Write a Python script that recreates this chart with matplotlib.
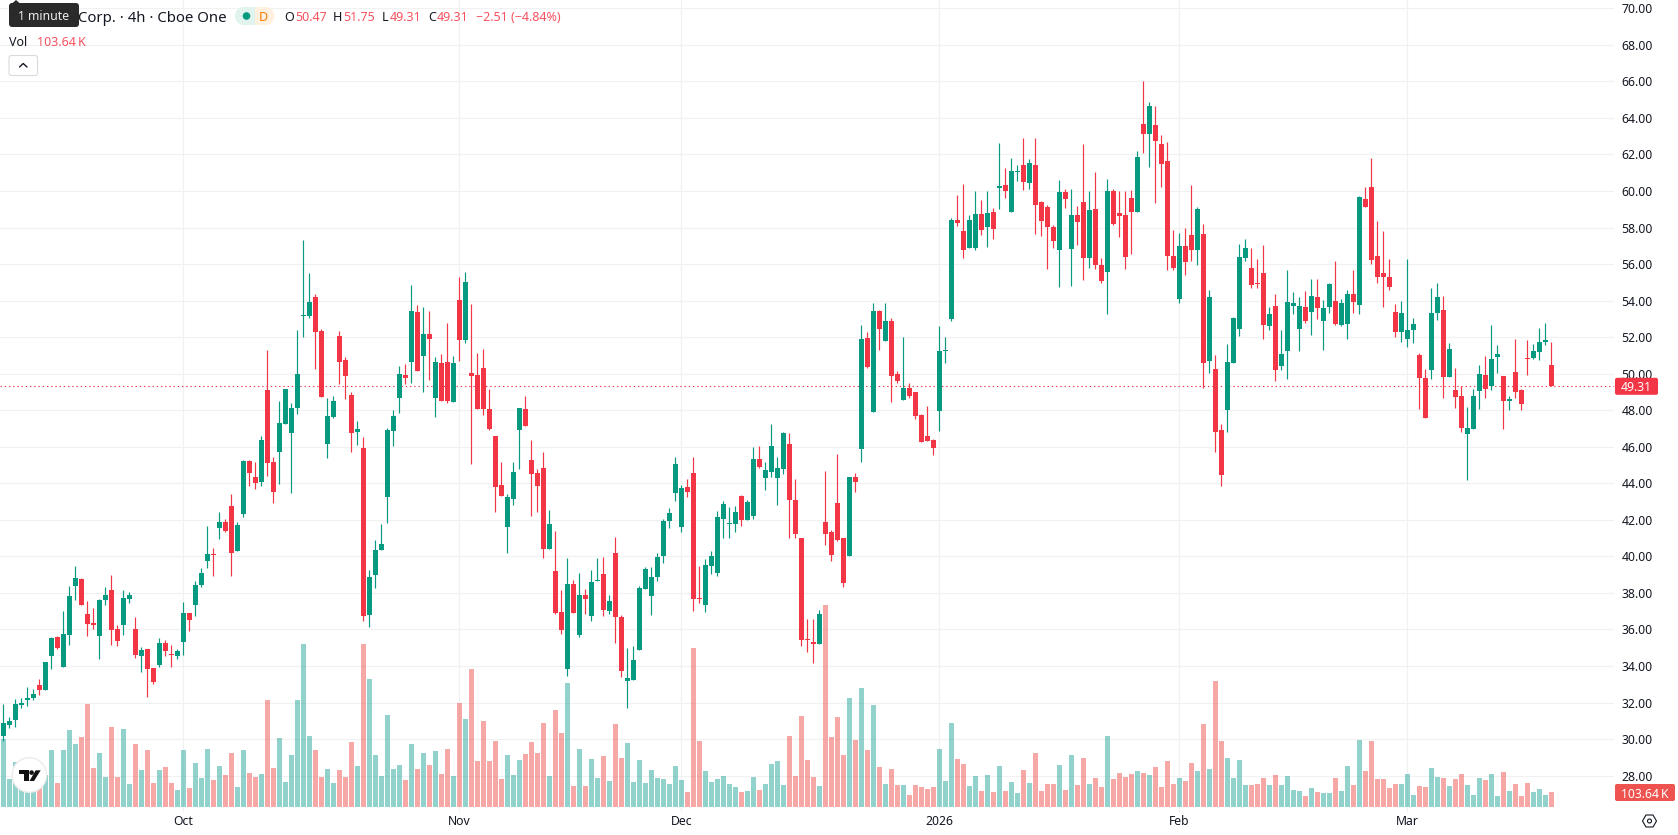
import matplotlib
matplotlib.use("Agg")
import matplotlib.pyplot as plt
from matplotlib.patches import Circle, FancyBboxPatch, Polygon, Rectangle

plt.rcParams["font.family"] = ["Noto Sans", "DejaVu Sans"]

# 4h candles, oldest first
opens = [
    30.18, 30.77, 31.06, 31.86, 32.14, 32.26, 32.96, 32.68, 34.54, 35.58,
    33.94, 35.69, 38.38, 38.76, 36.84, 36.35, 35.64, 37.61, 38.16, 36.02,
    36.24, 37.66, 36.02, 34.54, 34.93, 33.89, 34.05, 35.26, 34.65, 34.54,
    35.31, 36.90, 37.34, 38.43, 39.75, 40.13, 41.55, 41.88, 42.76, 40.29,
    42.32, 45.23, 44.35, 44.08, 49.11, 45.17, 45.72, 47.25, 46.76, 48.13,
    53.16, 53.16, 54.20, 52.34, 46.16, 47.63, 52.07, 50.75, 48.84, 46.81,
    45.94, 36.79, 38.98, 40.35, 43.25, 46.87, 48.67, 49.93, 50.65, 53.38,
    50.97, 52.18, 48.67, 50.59, 50.65, 48.46, 54.04, 51.85, 50.04, 49.93,
    50.32, 48.07, 46.60, 43.91, 41.61, 43.15, 46.93, 48.07, 45.28, 44.57,
    44.84, 40.41, 39.21, 36.96, 33.84, 38.47, 35.70, 37.89, 36.74, 38.66,
    39.04, 37.02, 40.19, 36.69, 33.18, 33.24, 34.88, 38.22, 37.84, 38.88,
    40.03, 41.94, 43.48, 41.61, 43.80, 44.57, 37.73, 37.34, 39.48, 39.10,
    42.05, 41.78, 41.78, 43.31, 42.00, 42.22, 45.34, 44.30, 44.63, 44.30,
    44.76, 46.13, 43.11, 40.98, 35.50, 35.34, 35.18, 41.91, 41.36, 42.90,
    40.98, 40.00, 44.32, 45.86, 51.93, 47.88, 53.41, 51.77, 52.87, 49.96,
    48.54, 49.20, 48.98, 47.72, 46.57, 46.35, 47.94, 51.22, 52.97, 58.40,
    57.79, 56.86, 56.86, 58.72, 58.01, 58.83, 60.15, 60.31, 58.83, 61.02,
    61.41, 60.42, 61.41, 59.38, 59.11, 58.01, 56.75, 59.96, 56.84, 58.70,
    59.41, 56.35, 59.03, 55.96, 55.58, 60.02, 58.81, 58.70, 59.63, 58.87,
    63.68, 63.14, 63.63, 62.59, 61.66, 56.46, 54.10, 57.00, 57.61, 56.79,
    57.66, 50.71, 50.27, 46.93, 48.03, 50.60, 52.46, 56.35, 55.80, 54.98,
    55.53, 52.62, 53.72, 50.43, 51.26, 53.72, 52.46, 53.66, 53.39, 54.21,
    52.90, 53.66, 53.99, 52.65, 52.71, 54.35, 53.75, 59.55, 60.21, 56.43,
    55.50, 55.28, 53.36, 52.27, 51.89, 52.38, 51.01, 49.75, 50.19, 53.31,
    53.47, 49.80, 49.09, 48.76, 46.68, 46.96, 49.04, 49.91, 49.31, 50.90,
    49.86, 48.49, 50.08, 49.09, 50.84, 50.84, 51.17, 51.72, 50.47,
]
highs = [
    31.92, 31.20, 32.19, 32.26, 32.85, 32.74, 33.29, 34.22, 35.58, 35.64,
    37.01, 38.38, 39.47, 38.81, 37.56, 37.17, 37.66, 38.32, 38.98, 36.24,
    38.16, 38.05, 36.68, 35.04, 34.93, 33.89, 35.53, 35.42, 35.15, 34.93,
    37.50, 36.90, 38.65, 39.36, 41.66, 40.46, 42.43, 42.05, 43.41, 41.88,
    45.28, 45.28, 45.17, 46.59, 51.30, 45.44, 48.51, 49.17, 48.40, 52.40,
    57.33, 55.52, 54.37, 52.45, 48.67, 48.78, 52.34, 50.92, 49.00, 47.42,
    46.54, 39.26, 40.90, 41.78, 47.03, 48.02, 50.43, 50.54, 54.86, 53.77,
    53.66, 53.44, 50.92, 51.08, 52.78, 50.97, 55.30, 55.57, 53.82, 51.14,
    51.36, 49.17, 46.60, 45.17, 43.42, 45.17, 48.13, 48.79, 46.38, 44.79,
    45.72, 42.55, 41.40, 38.17, 39.92, 38.71, 39.10, 38.22, 39.26, 39.92,
    39.97, 37.89, 41.07, 36.80, 34.99, 35.10, 38.38, 39.42, 39.42, 40.19,
    42.05, 42.65, 45.45, 43.91, 44.24, 45.45, 39.48, 39.86, 40.30, 42.49,
    43.04, 42.71, 42.76, 43.37, 43.09, 46.00, 46.05, 45.17, 47.25, 45.45,
    46.79, 46.73, 44.21, 40.98, 36.60, 36.60, 37.09, 44.70, 41.42, 45.58,
    41.03, 44.37, 44.59, 52.65, 52.26, 53.85, 53.47, 53.85, 53.03, 50.13,
    51.99, 49.47, 48.98, 47.77, 48.21, 46.40, 52.59, 51.99, 58.50, 59.76,
    60.37, 58.67, 59.98, 59.49, 59.98, 59.05, 62.61, 61.24, 61.79, 61.41,
    62.88, 61.73, 62.88, 59.44, 59.22, 58.12, 60.59, 60.12, 60.12, 59.19,
    62.59, 60.02, 61.06, 56.35, 60.67, 60.12, 60.02, 60.02, 60.07, 62.21,
    66.04, 64.89, 64.67, 63.08, 62.70, 57.88, 57.72, 57.99, 60.34, 59.14,
    58.21, 54.60, 51.04, 47.26, 51.64, 53.12, 57.11, 57.39, 56.89, 56.29,
    57.06, 53.66, 54.38, 52.41, 55.69, 54.49, 54.21, 54.54, 55.20, 55.20,
    54.05, 54.98, 56.18, 54.08, 54.57, 55.66, 59.71, 60.21, 61.79, 58.35,
    57.80, 56.26, 53.80, 53.97, 56.26, 53.03, 51.12, 50.24, 54.68, 54.95,
    54.24, 51.67, 50.30, 49.31, 48.16, 49.15, 50.46, 50.95, 52.65, 51.56,
    49.86, 48.76, 51.88, 49.15, 51.83, 51.61, 52.49, 52.76, 51.75,
]
lows = [
    29.91, 30.62, 30.67, 31.70, 31.81, 32.14, 32.41, 32.68, 33.83, 34.93,
    33.94, 35.15, 37.61, 37.34, 35.64, 36.02, 34.38, 37.34, 35.15, 35.09,
    35.69, 37.45, 34.43, 33.67, 32.30, 33.01, 33.94, 34.54, 33.94, 34.38,
    34.60, 35.91, 36.73, 38.32, 39.36, 38.92, 40.95, 41.33, 38.92, 40.29,
    42.16, 43.86, 43.69, 43.86, 44.40, 42.93, 43.97, 47.25, 43.47, 47.80,
    52.01, 53.05, 50.26, 48.73, 45.39, 47.58, 49.44, 48.62, 45.72, 46.10,
    36.45, 36.15, 38.27, 40.35, 41.83, 46.05, 47.85, 49.44, 49.48, 50.15,
    49.00, 49.66, 47.63, 48.51, 48.40, 48.46, 50.70, 51.69, 45.06, 48.07,
    47.74, 46.92, 42.44, 43.31, 40.19, 42.82, 44.79, 47.14, 42.22, 42.44,
    39.92, 40.41, 36.85, 35.76, 33.46, 36.91, 35.59, 36.85, 36.47, 38.66,
    36.74, 36.85, 35.26, 33.40, 31.70, 33.24, 34.88, 38.22, 36.80, 38.66,
    39.64, 41.56, 43.04, 41.34, 43.26, 37.02, 37.45, 36.96, 39.04, 38.93,
    41.01, 41.01, 41.34, 41.67, 42.00, 42.05, 44.84, 43.64, 44.35, 42.82,
    44.49, 40.98, 40.98, 35.12, 34.79, 34.14, 35.18, 40.65, 39.77, 40.87,
    38.35, 40.00, 43.50, 45.15, 50.29, 47.88, 51.28, 51.77, 48.43, 49.47,
    48.54, 48.65, 47.50, 46.24, 46.30, 45.53, 46.84, 50.57, 52.87, 58.07,
    56.31, 56.86, 56.75, 57.57, 56.92, 57.35, 59.00, 59.60, 58.83, 60.53,
    60.04, 60.09, 57.63, 57.52, 55.71, 56.86, 54.73, 59.08, 54.81, 57.06,
    55.14, 55.80, 55.75, 54.98, 53.28, 58.15, 57.50, 55.75, 56.57, 58.87,
    62.10, 61.33, 59.36, 60.23, 55.69, 55.69, 53.88, 55.42, 56.18, 55.96,
    49.23, 50.05, 45.73, 43.86, 46.82, 50.60, 52.08, 56.18, 54.70, 54.70,
    51.91, 52.40, 49.61, 50.21, 49.72, 53.28, 51.26, 52.79, 52.13, 53.01,
    51.31, 53.34, 52.68, 52.60, 51.89, 53.31, 53.25, 59.11, 55.99, 54.95,
    53.63, 54.57, 51.99, 51.72, 51.45, 51.67, 48.05, 47.56, 49.69, 52.93,
    48.65, 49.80, 48.11, 46.79, 44.17, 46.96, 48.05, 48.65, 49.09, 50.02,
    46.96, 48.00, 48.65, 48.00, 49.91, 50.79, 50.74, 51.56, 49.31,
]
closes = [
    30.86, 30.99, 31.92, 31.97, 32.26, 32.46, 32.68, 34.22, 35.53, 34.98,
    35.75, 37.83, 38.81, 37.34, 36.30, 36.24, 37.61, 37.88, 35.97, 35.37,
    37.72, 37.88, 34.60, 34.87, 33.83, 33.12, 35.26, 34.82, 34.60, 34.82,
    36.90, 36.51, 38.43, 39.09, 40.13, 40.07, 41.88, 41.39, 40.18, 41.72,
    45.23, 44.57, 44.02, 46.37, 45.12, 43.53, 47.31, 49.17, 48.13, 49.99,
    53.22, 53.93, 52.29, 48.73, 47.69, 48.51, 50.65, 49.88, 46.76, 46.98,
    36.74, 38.87, 40.35, 40.68, 46.92, 47.69, 49.99, 49.77, 53.44, 50.15,
    52.18, 51.90, 50.65, 48.51, 48.51, 50.59, 51.85, 55.03, 49.88, 48.07,
    48.07, 46.98, 43.80, 43.31, 43.26, 44.63, 48.13, 47.14, 44.52, 43.86,
    40.41, 41.78, 36.91, 35.97, 38.47, 36.91, 37.89, 37.67, 38.60, 38.71,
    37.07, 37.56, 36.69, 33.73, 33.35, 34.33, 38.27, 39.31, 38.88, 39.97,
    41.94, 42.38, 45.06, 43.75, 43.53, 37.67, 37.67, 39.53, 40.03, 42.16,
    42.87, 41.83, 42.44, 42.00, 42.98, 45.34, 44.90, 44.73, 46.05, 44.84,
    46.73, 43.06, 41.25, 35.45, 35.45, 35.18, 36.82, 41.25, 40.10, 40.92,
    38.52, 44.32, 44.05, 51.88, 50.35, 53.41, 52.43, 52.87, 49.85, 49.58,
    49.20, 48.76, 47.66, 46.24, 46.30, 45.91, 51.22, 51.28, 58.40, 58.23,
    56.75, 58.40, 58.72, 57.85, 58.78, 57.90, 60.26, 59.98, 61.08, 61.08,
    60.48, 61.52, 59.22, 58.34, 58.01, 57.25, 59.93, 59.58, 58.70, 58.32,
    56.35, 58.97, 55.96, 55.09, 60.02, 58.21, 58.65, 56.40, 58.87, 61.88,
    63.14, 64.67, 62.75, 61.49, 56.46, 55.80, 57.00, 56.13, 56.79, 59.03,
    50.60, 54.21, 46.82, 44.47, 50.65, 53.06, 56.40, 56.89, 54.87, 54.92,
    52.68, 53.28, 50.21, 51.09, 53.94, 53.88, 53.72, 52.90, 54.27, 53.61,
    53.61, 54.92, 52.73, 53.86, 54.35, 53.91, 59.66, 59.11, 56.21, 55.28,
    55.28, 54.73, 52.27, 53.31, 52.38, 52.71, 49.75, 47.56, 53.31, 54.18,
    49.80, 51.34, 48.71, 47.01, 47.01, 48.76, 49.97, 49.15, 50.79, 51.06,
    48.49, 48.60, 48.98, 48.33, 50.79, 51.23, 51.72, 51.83, 49.31,
]
# volume per candle, thousands of shares
volumes = [
    469, 193, 311, 186, 129, 140, 152, 221, 393, 166,
    393, 531, 435, 483, 711, 269, 373, 207, 552, 207,
    538, 159, 435, 255, 393, 166, 255, 276, 166, 117,
    393, 131, 304, 200, 400, 186, 283, 221, 373, 138,
    393, 235, 207, 228, 738, 269, 476, 173, 359, 738,
    1125, 490, 393, 207, 262, 166, 255, 207, 449, 283,
    1125, 883, 359, 214, 635, 262, 290, 186, 435, 262,
    373, 290, 386, 228, 400, 214, 718, 607, 952, 317,
    593, 317, 455, 193, 359, 221, 324, 366, 449, 373,
    580, 214, 669, 511, 856, 145, 400, 145, 331, 200,
    352, 179, 573, 338, 442, 173, 324, 166, 255, 200,
    193, 159, 283, 186, 104, 1097, 455, 248, 173, 193,
    214, 159, 138, 104, 110, 207, 117, 159, 297, 317,
    152, 490, 214, 628, 324, 207, 145, 1394, 483, 621,
    359, 752, 462, 821, 393, 704, 276, 159, 262, 152,
    152, 83, 152, 138, 124, 138, 400, 179, 580, 331,
    297, 145, 214, 110, 221, 104, 283, 110, 173, 97,
    255, 166, 373, 110, 159, 159, 290, 117, 359, 152,
    338, 159, 200, 138, 490, 193, 235, 207, 228, 248,
    235, 221, 276, 138, 317, 159, 200, 179, 304, 248,
    573, 262, 869, 455, 338, 200, 324, 152, 152, 159,
    200, 152, 221, 152, 214, 117, 110, 76, 131, 104,
    97, 97, 200, 110, 283, 152, 462, 248, 455, 193,
    193, 131, 159, 159, 228, 83, 145, 138, 269, 207,
    200, 145, 193, 228, 152, 83, 200, 186, 228, 76,
    242, 110, 159, 76, 166, 104, 124, 83, 103.64,
]
month_ticks = [30, 76, 113, 156, 196, 234]
month_labels = ["Oct", "Nov", "Dec", "2026", "Feb", "Mar"]
price_ticks = list(range(28, 71, 2))
last_price = 49.31
last_volume = 103.64

UP = "#089981"
DOWN = "#F23645"
VOL_UP = "#26A69A"
VOL_DOWN = "#EF5350"
GRID = "#F1F1F1"
TEXT = "#131722"

W, H = 1678, 835
PANE_R, PANE_B = 1614, 812   # right and bottom edge of the plot pane, in pixels
BAR_STEP = 6.0               # pixels per candle
FIRST_X = 3.33               # pixel centre of the first candle
PX_PER_UNIT = 18.27          # pixels per price unit
TOP_TICK_PX = 8.3            # pixel row of the 70.00 gridline


def price_to_px(p):
    return TOP_TICK_PX + (70 - p) * PX_PER_UNIT


fig = plt.figure(figsize=(W / 100, H / 100), dpi=100, facecolor="white")
rect = [0, (H - PANE_B) / H, PANE_R / W, PANE_B / H]

xlim = (-FIRST_X / BAR_STEP, (PANE_R - FIRST_X) / BAR_STEP)
xs = list(range(len(closes)))
rising = [c >= o for o, c in zip(opens, closes)]
colors = [UP if r else DOWN for r in rising]
vol_colors = [VOL_UP if r else VOL_DOWN for r in rising]

# price pane: grid, last price line and candles
ax = fig.add_axes(rect, zorder=1)
ax.set_xlim(xlim)
ax.set_ylim(70 - (PANE_B - TOP_TICK_PX) / PX_PER_UNIT, 70 + TOP_TICK_PX / PX_PER_UNIT)
for s in ax.spines.values():
    s.set_visible(False)
ax.set_axisbelow(True)
ax.grid(True, color=GRID, linewidth=0.85)
ax.yaxis.tick_right()
ax.set_yticks(price_ticks, [f"{v:.2f}" for v in price_ticks])
ax.set_xticks(month_ticks, month_labels)
ax.tick_params(length=0, labelsize=8.8, labelcolor=TEXT)
ax.tick_params(axis="y", pad=5.5)
ax.tick_params(axis="x", pad=2.5)
ax.get_xticklabels()[3].set_fontweight("bold")

ax.axhline(last_price, color=DOWN, linewidth=0.8, linestyle=(0, (1.2, 2.6)), zorder=1.5)
ax.vlines(xs, lows, highs, colors=colors, linewidth=0.85, zorder=3)
body_bottom = [min(o, c) for o, c in zip(opens, closes)]
body_height = [max(abs(o - c), 0.05) for o, c in zip(opens, closes)]
ax.bar(xs, body_height, bottom=body_bottom, width=5 / BAR_STEP, color=colors, linewidth=0, zorder=4)

# volume pane shares the same area, anchored a few pixels above the pane bottom
K_PER_PX = 6.909
vol = fig.add_axes(rect, zorder=2)
vol.patch.set_visible(False)
vol.set_axis_off()
vol.set_xlim(xlim)
vol.set_ylim(-(PANE_B - 807) * K_PER_PX, 807 * K_PER_PX)
vol.bar(xs, volumes, width=5 / BAR_STEP, color=vol_colors, alpha=0.5, linewidth=0)

# interface layer drawn in pixel coordinates
ui = fig.add_axes([0, 0, 1, 1], zorder=5)
ui.patch.set_visible(False)
ui.set_axis_off()
ui.set_xlim(0, W)
ui.set_ylim(H, 0)


def round_box(x0, y0, x1, y1, fc, ec="none", r=2.0, lw=0.0):
    ui.add_patch(FancyBboxPatch((x0 + r, y0 + r), x1 - x0 - 2 * r, y1 - y0 - 2 * r,
                                boxstyle=f"round,pad={r},rounding_size={r}",
                                fc=fc, ec=ec, lw=lw))


# axis value tags
y_last = price_to_px(last_price)
round_box(1615, y_last - 8.5, 1658, y_last + 8.5, DOWN)
ui.text(1636.5, y_last, f"{last_price:.2f}", color="white", ha="center", va="center_baseline", fontsize=8.8)
round_box(1615, 784, 1675, 801, VOL_DOWN)
ui.text(1645, 792.5, f"{last_volume:.2f}\u2009K", color="white", ha="center", va="center_baseline", fontsize=8.8)

# settings hexagon
cx, cy = 1649.5, 821
ui.add_patch(Polygon([(cx - 7, cy), (cx - 3.5, cy - 6), (cx + 3.5, cy - 6),
                      (cx + 7, cy), (cx + 3.5, cy + 6), (cx - 3.5, cy + 6)],
                     closed=True, fc="none", ec=TEXT, lw=0.8))
ui.add_patch(Circle((cx, cy), 2.0, fc="none", ec=TEXT, lw=0.8))

# logo badge
ui.add_patch(Circle((29.3, 775), 17.3, fc="white", ec="#ECECEC", lw=1.0))
ui.add_patch(Polygon([(19, 770.3), (28.5, 770.3), (28.5, 781), (24, 781), (24, 774.3), (19, 774.3)],
                     closed=True, fc="#111111", ec="none"))
ui.add_patch(Circle((31.6, 772.6), 2.3, fc="#111111", ec="none"))
ui.add_patch(Polygon([(35.7, 770.3), (40.7, 770.3), (34, 781), (29.5, 781)],
                     closed=True, fc="#111111", ec="none"))

# legend header
ui.text(78.5, 16, "Corp. · 4h · Cboe One", color=TEXT, fontsize=10.75, ha="left", va="center_baseline")

ui.add_patch(Rectangle((245, 7), 10, 18, fc="#E0F3EF", ec="none"))
ui.add_patch(Rectangle((255, 7), 10, 18, fc="#FFF0DF", ec="none"))
ui.add_patch(Circle((244, 16), 9, fc="#E0F3EF", ec="none"))
ui.add_patch(Circle((265.5, 16), 9, fc="#FFF0DF", ec="none"))
ui.add_patch(Circle((246.5, 16), 3.8, fc=UP, ec="none"))
ui.text(263.7, 16, "D", color="#F57C00", fontsize=9.0, fontweight="bold", ha="center", va="center_baseline")

HEAD_RED = "#F7525F"
for x, s, c in [(284, "O", TEXT), (295, "50.47", HEAD_RED), (333, "H", TEXT), (343.5, "51.75", HEAD_RED),
                (382, "L", TEXT), (389.5, "49.31", HEAD_RED), (428, "C", TEXT), (437, "49.31", HEAD_RED),
                (476.5, "\u22122.51 (\u22124.84%)", HEAD_RED)]:
    ui.text(x, 16, s, color=c, fontsize=9.0, ha="left", va="center_baseline")

ui.text(9, 40.7, "Vol", color=TEXT, fontsize=9.0, ha="left", va="center_baseline")
ui.text(37, 40.7, "103.64\u2009K", color=HEAD_RED, fontsize=9.0, ha="left", va="center_baseline")

round_box(9, 55.5, 37.5, 75.5, "white", ec="#DADADA", r=2.5, lw=0.8)
ui.plot([19.5, 23.2, 27], [67, 63.5, 67], color=TEXT, lw=1.0, solid_capstyle="round")

# hover tooltip
ui.add_patch(Polygon([(12, 3.5), (16, 0), (20, 3.5)], closed=True, fc="#2A2A2A", ec="none"))
round_box(9, 3, 79, 27, "#2A2A2A", r=3)
ui.text(44, 15.5, "1 minute", color="#EDEDED", fontsize=8.8, ha="center", va="center_baseline")

fig.savefig("out.png", dpi=100, facecolor="white")
